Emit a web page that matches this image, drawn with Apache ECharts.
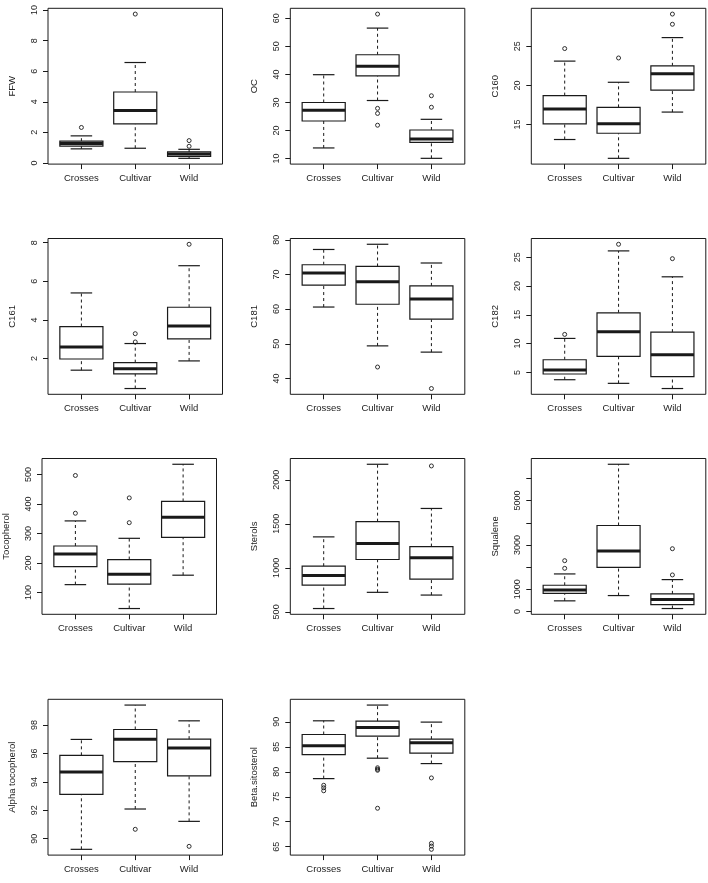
<!DOCTYPE html>
<html>
<head>
<meta charset="utf-8">
<script src="https://cdn.jsdelivr.net/npm/echarts@6/dist/echarts.min.js"></script>
<style>
html,body{margin:0;padding:0;background:#fff;}
#chart{width:708px;height:883px;}
</style>
</head>
<body>
<div id="chart"></div>
<script>
// ---------- DATA ----------
const categories = ['Crosses', 'Cultivar', 'Wild'];

// [lower whisker, Q1, median, Q3, upper whisker] per category
const ffwStats = [[0.92, 1.1, 1.27, 1.42, 1.77], [0.96, 2.56, 3.43, 4.64, 6.57], [0.3, 0.43, 0.59, 0.72, 0.89]];
const ffwOutliers = [[2.32], [9.74], [1.09, 1.46]];
const ffwTicks = [0, 2, 4, 6, 8, 10];

const ocStats = [[13.8, 23.4, 27.2, 30.0, 39.9], [30.7, 39.5, 42.9, 47.0, 56.5], [10.1, 15.8, 17.0, 20.2, 24.0]];
const ocOutliers = [[], [61.5, 27.9, 26.1, 21.9], [28.3, 32.4]];
const ocTicks = [10, 20, 30, 40, 50, 60];

const c160Stats = [[13.1, 15.1, 17.0, 18.7, 23.1], [10.7, 13.9, 15.1, 17.2, 20.4], [16.6, 19.4, 21.5, 22.5, 26.1]];
const c160Outliers = [[24.7], [23.5], [27.8, 29.1]];
const c160Ticks = [15, 20, 25];

const c161Stats = [[1.4, 1.98, 2.6, 3.66, 5.4], [0.45, 1.21, 1.48, 1.79, 2.78], [1.88, 3.02, 3.69, 4.66, 6.81]];
const c161Outliers = [[], [2.86, 3.29], [7.92]];
const c161Ticks = [2, 4, 6, 8];

const c181Stats = [[60.6, 66.9, 70.4, 72.8, 77.2], [49.4, 61.4, 67.9, 72.3, 78.7], [47.6, 57.1, 62.9, 66.7, 73.3]];
const c181Outliers = [[], [43.3], [37.1]];
const c181Ticks = [40, 50, 60, 70, 80];

const c182Stats = [[3.73, 4.72, 5.42, 7.2, 10.9], [3.1, 7.77, 12.05, 15.35, 26.1], [2.2, 4.25, 8.07, 12.0, 21.6]];
const c182Outliers = [[11.6], [27.25], [24.75]];
const c182Ticks = [5, 10, 15, 20, 25];

const tocoStats = [[127, 188, 231, 258, 343], [46, 129, 162, 212, 284], [159, 287, 355, 409, 535]];
const tocoOutliers = [[369, 497], [337, 421], []];
const tocoTicks = [100, 200, 300, 400, 500];

const sterolStats = [[538, 804, 914, 1019, 1352], [722, 1095, 1276, 1525, 2177], [691, 872, 1114, 1242, 1675]];
const sterolOutliers = [[], [], [2158]];
const sterolTicks = [500, 1000, 1500, 2000];

const squaleneStats = [[481, 822, 975, 1183, 1694], [719, 1991, 2727, 3877, 6635], [135, 314, 539, 795, 1438]];
const squaleneOutliers = [[1947, 2291], [], [1649, 2830]];
const squaleneTicks = [0, 1000, 2000, 3000, 4000, 5000, 6000];
const squaleneLabels = [0, 1000, 3000, 5000];

const alphaStats = [[89.25, 93.12, 94.69, 95.87, 96.99], [92.09, 95.42, 97.01, 97.69, 99.41], [91.22, 94.43, 96.38, 97.01, 98.3]];
const alphaOutliers = [[], [90.66], [89.46]];
const alphaTicks = [90, 92, 94, 96, 98];

const betaStats = [[78.63, 83.45, 85.19, 87.46, 90.2], [82.72, 87.13, 88.86, 90.13, 93.35], [81.64, 83.72, 85.79, 86.53, 89.94]];
const betaOutliers = [[77.3, 76.8, 76.2], [80.8, 80.5, 80.3, 72.7], [78.77, 65.68, 65.14, 64.48]];
const betaTicks = [65, 70, 75, 80, 85, 90];

const panelNames = ['FFW', 'OC', 'C160', 'C161', 'C181', 'C182', 'Tocopherol', 'Sterols', 'Squalene', 'Alpha tocopherol', 'Beta.sitosterol'];

const panels = [
  { stats: ffwStats, out: ffwOutliers, ticks: ffwTicks, labels: ffwTicks },
  { stats: ocStats, out: ocOutliers, ticks: ocTicks, labels: ocTicks },
  { stats: c160Stats, out: c160Outliers, ticks: c160Ticks, labels: c160Ticks },
  { stats: c161Stats, out: c161Outliers, ticks: c161Ticks, labels: c161Ticks },
  { stats: c181Stats, out: c181Outliers, ticks: c181Ticks, labels: c181Ticks },
  { stats: c182Stats, out: c182Outliers, ticks: c182Ticks, labels: c182Ticks },
  { stats: tocoStats, out: tocoOutliers, ticks: tocoTicks, labels: tocoTicks },
  { stats: sterolStats, out: sterolOutliers, ticks: sterolTicks, labels: sterolTicks },
  { stats: squaleneStats, out: squaleneOutliers, ticks: squaleneTicks, labels: squaleneLabels },
  { stats: alphaStats, out: alphaOutliers, ticks: alphaTicks, labels: alphaTicks },
  { stats: betaStats, out: betaOutliers, ticks: betaTicks, labels: betaTicks }
];

// ---------- LAYOUT ----------
const rowTops = [8.3, 238.5, 458.5, 699.3];
const plotH = 155.8;
const colLefts = [48, 290.3, 531.3];
const plotW = 174.5;

const INK = '#1a1a1a';
const TXT = '#222';
const FONT = "'Liberation Sans', Arial, sans-serif";

const grids = [], xAxes = [], yAxes = [], series = [];

function rExtent(stats, out) {
  let lo = Infinity, hi = -Infinity;
  stats.forEach(s => s.forEach(v => { lo = Math.min(lo, v); hi = Math.max(hi, v); }));
  out.forEach(o => o.forEach(v => { lo = Math.min(lo, v); hi = Math.max(hi, v); }));
  const d = (hi - lo) * 0.04;
  return [lo - d, hi + d];
}

function renderBox(params, api) {
  const x = api.value(0);
  const lo = api.value(1), q1 = api.value(2), med = api.value(3), q3 = api.value(4), hi = api.value(5);
  const half = 0.4, cap = 0.2;
  const tl = api.coord([x - half, q3]);
  const br = api.coord([x + half, q1]);
  const c = (a, b) => api.coord([a, b]);
  const dash = { stroke: INK, lineWidth: 1, lineDash: [3, 3], fill: null };
  const solid = { stroke: INK, lineWidth: 1.2, fill: null };
  const P = (a, b) => { const p1 = c(a[0], a[1]); const p2 = c(b[0], b[1]); return { x1: p1[0], y1: p1[1], x2: p2[0], y2: p2[1] }; };
  return {
    type: 'group',
    children: [
      { type: 'line', shape: P([x, q3], [x, hi]), style: dash },
      { type: 'line', shape: P([x, lo], [x, q1]), style: dash },
      { type: 'line', shape: P([x - cap, hi], [x + cap, hi]), style: solid },
      { type: 'line', shape: P([x - cap, lo], [x + cap, lo]), style: solid },
      { type: 'rect', shape: { x: tl[0], y: tl[1], width: br[0] - tl[0], height: br[1] - tl[1] },
        style: { fill: '#fff', stroke: INK, lineWidth: 1.2 } },
      { type: 'line', shape: P([x - half, med], [x + half, med]), style: { stroke: INK, lineWidth: 3 } }
    ]
  };
}

function renderOutlier(params, api) {
  const p = api.coord([api.value(0), api.value(1)]);
  return { type: 'circle', shape: { cx: p[0], cy: p[1], r: 2 }, style: { fill: 'none', stroke: INK, lineWidth: 0.9 } };
}

panels.forEach((p, i) => {
  const row = Math.floor(i / 3), col = i % 3;
  let left = colLefts[col];
  if (row === 2 && col === 0) left = 42;
  grids.push({ left: left, top: rowTops[row], width: plotW, height: plotH,
    show: true, borderColor: INK, borderWidth: 1, backgroundColor: 'transparent', containLabel: false });
  xAxes.push({
    gridIndex: i, type: 'value', min: 0.38, max: 3.62,
    axisLine: { show: false, onZero: false },
    splitLine: { show: false },
    axisTick: { show: true, length: 5, customValues: [1, 2, 3], lineStyle: { color: INK, width: 1 } },
    axisLabel: { show: true, customValues: [1, 2, 3], margin: 9, color: TXT, fontSize: 9.5, fontFamily: FONT,
      formatter: v => categories[Math.round(v) - 1] }
  });
  const ext = rExtent(p.stats, p.out);
  yAxes.push({
    gridIndex: i, type: 'value', min: ext[0], max: ext[1],
    name: panelNames[i], nameLocation: 'middle', nameGap: 31, nameRotate: 90,
    nameTextStyle: { color: TXT, fontSize: 9.5, fontFamily: FONT },
    axisLine: { show: false, onZero: false },
    splitLine: { show: false },
    axisTick: { show: true, length: 5, customValues: p.ticks, lineStyle: { color: INK, width: 1 } },
    axisLabel: { show: true, customValues: p.labels, rotate: 90, margin: 9, color: TXT, fontSize: 9, fontFamily: FONT,
      formatter: v => String(v) }
  });
  series.push({
    type: 'custom', xAxisIndex: i, yAxisIndex: i, renderItem: renderBox, silent: true,
    data: p.stats.map((s, k) => [k + 1].concat(s))
  });
  const pts = [];
  p.out.forEach((arr, k) => arr.forEach(v => pts.push([k + 1, v])));
  series.push({
    type: 'custom', xAxisIndex: i, yAxisIndex: i, renderItem: renderOutlier, silent: true, data: pts
  });
});

const chart = echarts.init(document.getElementById('chart'), null, { renderer: 'canvas' });
chart.setOption({
  animation: false,
  backgroundColor: '#fff',
  textStyle: { fontFamily: FONT },
  grid: grids, xAxis: xAxes, yAxis: yAxes, series: series
});
</script>
</body>
</html>
